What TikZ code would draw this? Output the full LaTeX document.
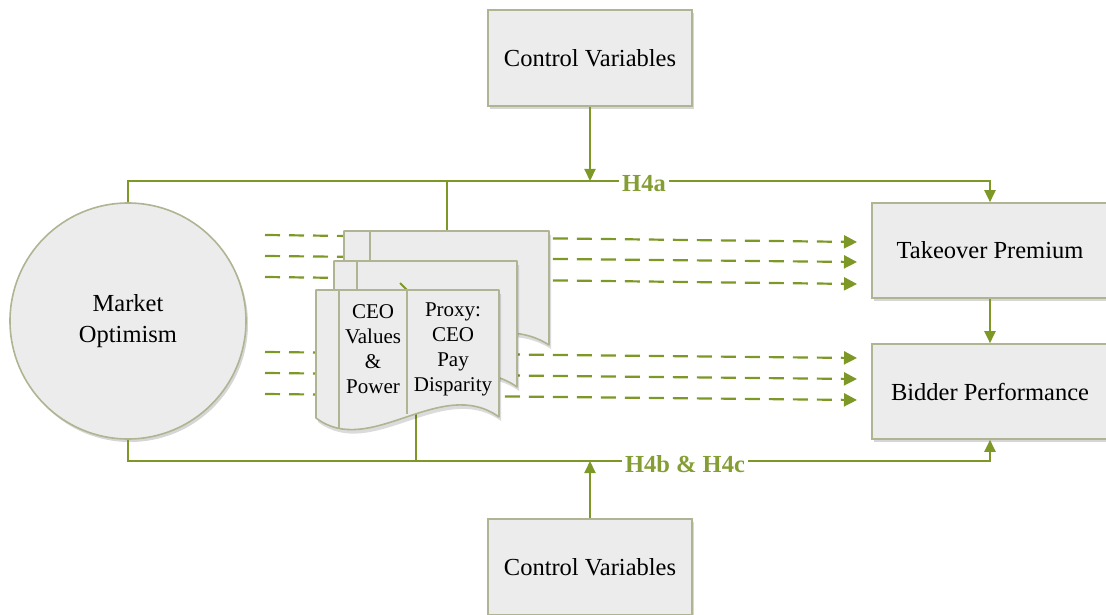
\documentclass[tikz,border=0pt]{standalone}
\usepackage{fontspec}
\setmainfont{Liberation Serif}
\usetikzlibrary{arrows.meta,shadows}
\definecolor{lineGreen}{RGB}{125,152,38}
\definecolor{labGreen}{RGB}{132,158,52}
\definecolor{edgeGray}{RGB}{176,180,146}
\definecolor{boxFill}{RGB}{236,236,236}
\tikzset{
  boxnode/.style={draw=edgeGray, line width=1.6pt, fill=boxFill, rectangle,
    drop shadow={shadow xshift=2pt, shadow yshift=-3pt, fill=black, opacity=0.16},
    font=\fontsize{24.5}{31}\selectfont, align=center, inner sep=0pt},
  circnode/.style={draw=edgeGray, line width=1.6pt, fill=boxFill, circle,
    drop shadow={shadow xshift=2pt, shadow yshift=-3pt, fill=black, opacity=0.16},
    font=\fontsize{24.5}{31}\selectfont, align=center, inner sep=0pt},
  conn/.style={draw=lineGreen, line width=2pt},
  arr/.style={conn, -{Triangle[length=12pt,width=11pt]}},
  dasharr/.style={draw=lineGreen, line width=2.2pt, dash pattern=on 15pt off 9pt,
    -{Triangle[length=13pt,width=13pt]}, shorten >=0pt},
  hlabel/.style={text=labGreen, fill=white, font=\bfseries\fontsize{24.5}{28}\selectfont,
    inner xsep=3pt, inner ysep=1pt},
  doctext/.style={font=\fontsize{21}{25}\selectfont, align=center, inner sep=0pt},
}
% #1 left, #2 right, #3 top, #4 bottom, #5 inner line x
\newcommand{\ceodoc}[5]{%
  \fill[black, opacity=0.14, xshift=2pt, yshift=-4pt]
    (#1,#3) -- (#2,#3) -- (#2,#4)
    .. controls ({#1+0.683*(#2-#1)},{#4-42}) and ({#1+0.295*(#2-#1)},{#4+42}) .. (#1,{#4+1}) -- cycle;
  \fill[boxFill]
    (#1,#3) -- (#2,#3) -- (#2,#4)
    .. controls ({#1+0.683*(#2-#1)},{#4-42}) and ({#1+0.295*(#2-#1)},{#4+42}) .. (#1,{#4+1}) -- cycle;
  \begin{scope}
    \clip (#1,#3) -- (#2,#3) -- (#2,#4)
    .. controls ({#1+0.683*(#2-#1)},{#4-42}) and ({#1+0.295*(#2-#1)},{#4+42}) .. (#1,{#4+1}) -- cycle;
    \draw[edgeGray, line width=1.6pt] (#5,#3) -- (#5,{#4+60});
  \end{scope}
  \draw[edgeGray, line width=1.6pt, line join=round]
    (#1,#3) -- (#2,#3) -- (#2,#4)
    .. controls ({#1+0.683*(#2-#1)},{#4-42}) and ({#1+0.295*(#2-#1)},{#4+42}) .. (#1,{#4+1}) -- cycle;
}
\begin{document}
\begin{tikzpicture}[x=1pt,y=-1pt]
\useasboundingbox (0,0) rectangle (1106,615);
\clip (0,0) rectangle (1106,615);

% main nodes
\node[boxnode, minimum width=204pt, minimum height=96pt] (cvt) at (590,58) {Control Variables};
\node[boxnode, minimum width=204pt, minimum height=96pt] (cvb) at (590,567) {Control Variables};
\node[boxnode, minimum width=236pt, minimum height=95pt] (tp) at (990,250.5) {Takeover Premium};
\node[boxnode, minimum width=236pt, minimum height=95pt] (bp) at (990,391.5) {Bidder Performance};
\node[circnode, minimum size=236pt] (mo) at (128,321) {Market\\Optimism};

% routing coordinates
\coordinate (h4aL) at (128,181);
\coordinate (h4aR) at (990,181);
\coordinate (h4bL) at (128,461);
\coordinate (h4bR) at (990,461);
\coordinate (backtop) at (447,231);
\coordinate (frontbot) at (416,414);

% dashed arrow end points
\coordinate (da1) at (265,235); \coordinate (db1) at (857,242);
\coordinate (da2) at (265,256); \coordinate (db2) at (857,262);
\coordinate (da3) at (265,277); \coordinate (db3) at (857,284);
\coordinate (da4) at (265,352); \coordinate (db4) at (857,358);
\coordinate (da5) at (265,373); \coordinate (db5) at (857,379);
\coordinate (da6) at (265,394); \coordinate (db6) at (857,400);

% solid connectors
\draw[arr] (mo.north) -- (h4aL) -- (h4aR) -- (tp.north);
\draw[arr] (cvt.south) -- (cvt.south |- h4aL);
\draw[conn] (h4aL -| backtop) -- (backtop);
\draw[arr] (tp.south) -- (bp.north);
\draw[arr] (mo.south) -- (h4bL) -- (h4bR) -- (bp.south);
\draw[arr] (cvb.north) -- (cvb.north |- h4bL);
\draw[conn] (frontbot) -- (frontbot |- h4bL);

% dashed arrows (behind documents)
\foreach \i in {1,...,6} {\draw[dasharr] (da\i) -- (db\i);}

% document stack
\ceodoc{344}{549}{231}{345}{370}
\ceodoc{334}{517}{261}{387}{357}
\coordinate (tick1) at (400,283); \coordinate (tick2) at (415,298);
\draw[conn] (tick1) -- (tick2);
\ceodoc{316}{499}{290}{417}{339}
\draw[edgeGray, line width=1.6pt] (407,290) -- (407,414);

\node[doctext] (ceo) at (373,349.5) {CEO\\Values\\\&\\Power};
\node[doctext] (proxy) at (453,349.5) {Proxy:\\CEO\\Pay\\Disparity};

% labels
\node[hlabel] (h4a) at (644,184) {H4a};
\node[hlabel] (h4b) at (685,464) {H4b \& H4c};
\end{tikzpicture}
\end{document}
